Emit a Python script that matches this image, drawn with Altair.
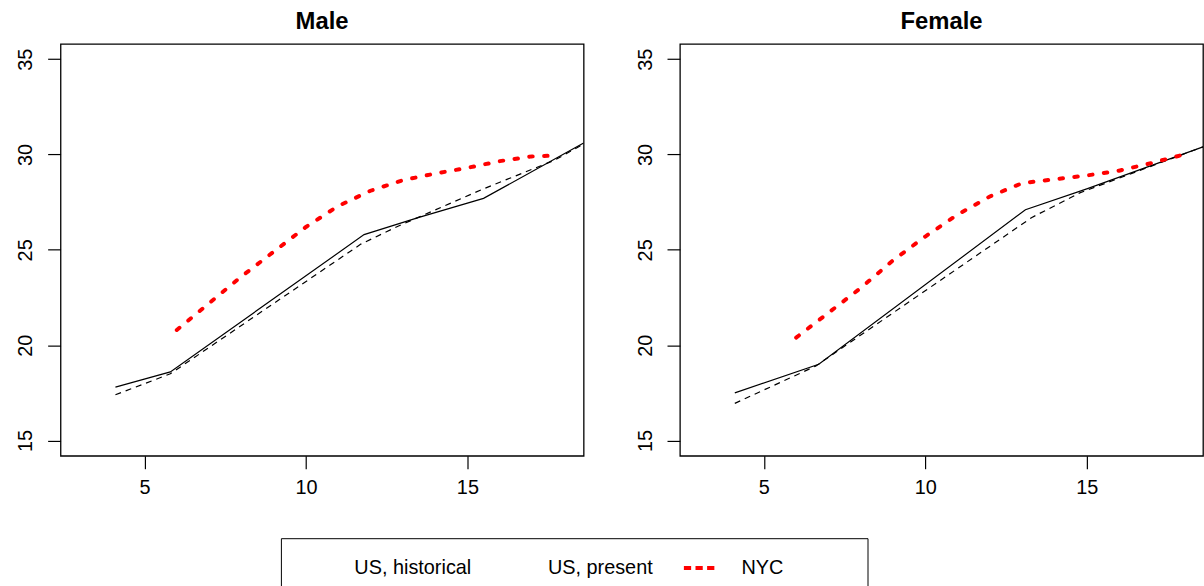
import altair as alt
import pandas as pd

# Series names, shared by both panels
series_names = ["US, historical", "US, present", "NYC"]

# Male panel
male_hist_x = [4.1, 5.8, 11.8, 13.5, 15.5, 18.6]
male_hist_y = [17.8, 18.6, 25.8, 26.7, 27.7, 30.6]
male_pres_x = [4.1, 5.8, 11.7, 12.8, 15.5, 17.7, 18.6]
male_pres_y = [17.4, 18.5, 25.3, 26.2, 28.2, 29.7, 30.55]
male_nyc_x = [6, 7, 8, 9, 10, 11, 12, 13, 14, 15, 16, 17, 17.8]
male_nyc_y = [20.8, 22.2, 23.6, 24.9, 26.2, 27.3, 28.1, 28.65, 29.0, 29.3, 29.65, 29.9, 29.95]

# Female panel
female_hist_x = [4.1, 6.7, 13.1, 15.0, 18.6]
female_hist_y = [17.5, 19.0, 27.1, 28.2, 30.4]
female_pres_x = [4.1, 6.6, 13.3, 14.8, 18.6]
female_pres_y = [16.95, 18.9, 26.7, 28.0, 30.4]
female_nyc_x = [6, 7, 8, 9, 10, 11, 12, 13, 14, 15, 16, 17, 17.9]
female_nyc_y = [20.4, 21.7, 23.0, 24.45, 25.7, 26.85, 27.8, 28.5, 28.7, 28.9, 29.15, 29.55, 29.95]

x_ticks = [5, 10, 15]
y_ticks = [15, 20, 25, 30, 35]

rows = []
for panel, groups in [
    ("Male", [(male_hist_x, male_hist_y), (male_pres_x, male_pres_y), (male_nyc_x, male_nyc_y)]),
    ("Female", [(female_hist_x, female_hist_y), (female_pres_x, female_pres_y), (female_nyc_x, female_nyc_y)]),
]:
    for name, (xs, ys) in zip(series_names, groups):
        for xv, yv in zip(xs, ys):
            rows.append({"panel": panel, "series": name, "x": xv, "y": yv})
df = pd.DataFrame(rows)

FONT = "Liberation Sans"

# the last key entry is padded with no-break spaces (closed by a zero-width
# space so they survive trimming) so the key frame runs on past "NYC"
NBSP_PAD = "\u00a0" * 13 + "\u200b"
LABEL_EXPR = f"datum.label === 'NYC' ? datum.label + '{NBSP_PAD}' : datum.label"


def panel(sex, with_legend):
    data = df[df.panel == sex]
    x = alt.X(
        "x:Q",
        scale=alt.Scale(domain=[2.4, 18.6], nice=False, zero=False),
        axis=alt.Axis(values=x_ticks, title=None, labelPadding=9),
    )
    y = alt.Y(
        "y:Q",
        scale=alt.Scale(domain=[14.2, 35.8], nice=False, zero=False),
        axis=alt.Axis(values=y_ticks, title=None, labelAngle=270,
                      labelAlign="center", labelBaseline="alphabetic",
                      labelPadding=16),
    )
    base = alt.Chart(data).encode(x=x, y=y, order="x:Q")
    hist = base.transform_filter(alt.datum.series == "US, historical").mark_line(
        strokeWidth=1.2, clip=True, color="black")
    pres = base.transform_filter(alt.datum.series == "US, present").mark_line(
        strokeWidth=1.2, strokeDash=[6, 5], clip=True, color="black")
    nyc = base.transform_filter(alt.datum.series == "NYC").mark_line(
        strokeWidth=4, strokeDash=[3.5, 11.5], strokeCap="round", clip=True,
        color="red")
    layers = [hist, pres, nyc]
    if with_legend:
        # key layer: carries the legend only, draws no marks of its own
        legend = alt.Legend(
            title=None, orient="none", legendX=222, legendY=498,
            direction="horizontal", columns=3, gridAlign="all",
            symbolType="stroke", symbolSize=1024, symbolStrokeWidth=4,
            symbolDash=[7.3, 4.4], symbolOpacity=1, symbolOffset=2,
            labelFont=FONT, labelFontSize=20, labelColor="black",
            labelOffset=24, columnPadding=11, padding=12,
            strokeColor="black", fillColor="white", labelLimit=300,
            labelExpr=LABEL_EXPR,
        )
        key = base.transform_filter(alt.datum.x < 0).mark_line(clip=True).encode(
            color=alt.Color(
                "series:N",
                scale=alt.Scale(domain=series_names,
                                range=["transparent", "transparent", "red"]),
                legend=legend,
            )
        )
        layers.append(key)
    return alt.layer(*layers).properties(
        width=527, height=415,
        title=alt.Title(sex, fontSize=24, fontWeight="bold", font=FONT,
                        anchor="middle", baseline="alphabetic", offset=-9,
                        color="black"),
    )


chart = (
    alt.hconcat(panel("Male", True), panel("Female", False), spacing=97, bounds="flush")
    .properties(padding={"left": 15, "top": 7, "right": 0, "bottom": 0},
                background="white")
    .configure_view(stroke="black", strokeWidth=1.3)
    .configure_axis(
        labelFont=FONT, labelFontSize=20, labelColor="black",
        tickColor="black", tickWidth=1.2, tickSize=13,
        domain=False, grid=False,
    )
)

chart.save("out.html", embed_options={"renderer": "svg", "actions": False})
